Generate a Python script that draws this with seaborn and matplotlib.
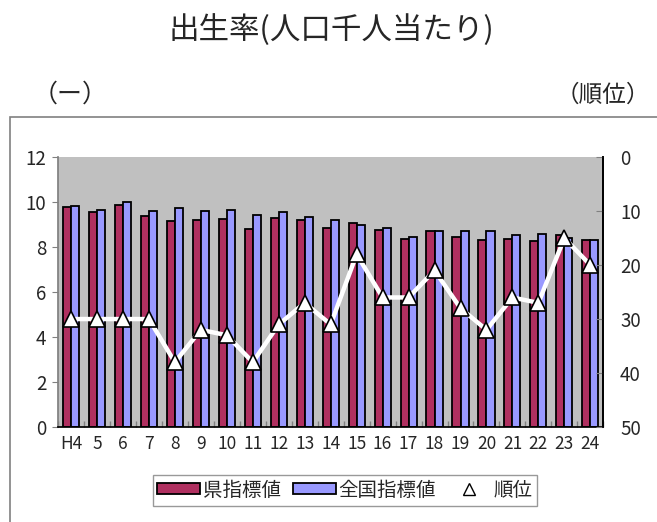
import numpy as np
import pandas as pd
import seaborn as sns
import matplotlib
matplotlib.use("Agg")
import matplotlib.pyplot as plt
from matplotlib.patches import Rectangle, Patch
from matplotlib.lines import Line2D

# data
years = ["H4", "5", "6", "7", "8", "9", "10", "11", "12", "13", "14",
         "15", "16", "17", "18", "19", "20", "21", "22", "23", "24"]
pref_rate = [9.76, 9.56, 9.88, 9.38, 9.17, 9.20, 9.24, 8.79, 9.30, 9.20, 8.86,
             9.08, 8.76, 8.36, 8.70, 8.46, 8.31, 8.36, 8.28, 8.53, 8.31]
national_rate = [9.82, 9.64, 10.01, 9.59, 9.72, 9.59, 9.66, 9.44, 9.56, 9.35, 9.20,
                 8.96, 8.84, 8.46, 8.70, 8.70, 8.71, 8.55, 8.59, 8.39, 8.30]
rank = [30, 30, 30, 30, 38, 32, 33, 38, 31, 27, 31,
        18, 26, 26, 21, 28, 32, 26, 27, 15, 20]

series_names = ["県指標値", "全国指標値"]
colors = ["#B03060", "#9999FF"]

df = pd.DataFrame({
    "year": years * 2,
    "value": pref_rate + national_rate,
    "series": [series_names[0]] * len(years) + [series_names[1]] * len(years),
})

sns.set_theme(style="white")
plt.rcParams['font.family'] = ['Noto Sans CJK JP', 'DejaVu Sans']

fig = plt.figure(figsize=(6.57, 5.22), dpi=100)
ax = fig.add_axes([0.0883, 0.182, 0.830, 0.517])

sns.barplot(data=df, x="year", y="value", hue="series", order=years,
            hue_order=series_names, palette=colors, width=0.62,
            edgecolor="black", linewidth=1.3, saturation=1, ax=ax, legend=False)

ax.set_facecolor("#C0C0C0")
ax.set_ylim(0, 12)
ax.set_yticks(range(0, 13, 2))
ax.set_xlim(-0.5, len(years) - 0.5)
ax.set_xlabel("")
ax.set_ylabel("")
ax.tick_params(axis="y", labelsize=13.5, length=4, width=0.8, color="#808080", left=True, pad=4.5)
ax.tick_params(axis="x", labelsize=12.5, length=0, pad=6)
ax.set_xticks(np.arange(len(years) + 1) - 0.5, minor=True)
ax.tick_params(axis="x", which="minor", direction="in", length=4, color="#808080", bottom=True)
ax.spines["top"].set_visible(False)
ax.spines["left"].set_color("#808080")
ax.spines["bottom"].set_color("black")
ax.spines["right"].set_color("black")

ax2 = ax.twinx()
ax2.plot(np.arange(len(years)), rank, color="white", lw=3.2, marker="^",
         markersize=12, markerfacecolor="white", markeredgecolor="black",
         markeredgewidth=1.2, zorder=5)
ax2.set_ylim(50, 0)
ax2.set_yticks(range(0, 51, 10))
ax2.tick_params(axis="y", labelsize=13.5, direction="in", length=5, width=0.8,
                color="#808080", right=True, pad=12)
ax2.spines["top"].set_visible(False)
ax2.spines["left"].set_visible(False)
ax2.spines["right"].set_color("black")
ax2.spines["bottom"].set_visible(False)
ax2.grid(False)
ax.grid(False)

# outer frame
fig.patches.append(Rectangle((10 / 657, -0.01), 1.0, 1 - 117 / 522 + 0.01,
                             transform=fig.transFigure, fill=False,
                             edgecolor="#808080", lw=1.2, zorder=0))

fig.text(0.505, 0.943, "出生率(人口千人当たり)", ha="center", va="center", fontsize=22)
fig.text(0.107, 0.818, "（ー）", ha="center", va="center", fontsize=18)
fig.text(0.990, 0.818, "（順位）", ha="right", va="center", fontsize=17)

handles = [
    Patch(facecolor=colors[0], edgecolor="black", lw=1.3),
    Patch(facecolor=colors[1], edgecolor="black", lw=1.3),
    Line2D([], [], ls="none", marker="^", markersize=9, markerfacecolor="white",
           markeredgecolor="black"),
]
fig.legend(handles, series_names + ["順位"], loc="center", bbox_to_anchor=(0.525, 0.061),
           ncol=3, frameon=True, fancybox=False, edgecolor="#808080", fontsize=14,
           handlelength=2.2, handleheight=0.5, handletextpad=0.15, columnspacing=0.6,
           borderpad=0.25, borderaxespad=0.2)

fig.savefig("out.png", dpi=100)
